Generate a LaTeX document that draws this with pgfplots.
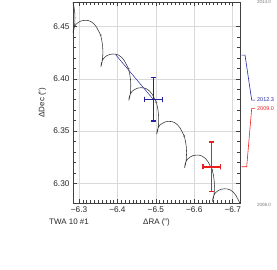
\documentclass[border=0pt]{standalone}
\usepackage{pgfplots}
\pgfplotsset{compat=1.18}
\usepackage{fontspec}
\setmainfont{Liberation Sans}
\definecolor{myblue}{RGB}{35,35,160}
\definecolor{myred}{RGB}{235,30,30}
\begin{document}
\begin{tikzpicture}
\begin{axis}[
 at={(0,0)}, anchor=south west,
 scale only axis, width=167bp, height=201bp,
 x dir=reverse,
 xmin=-6.719, xmax=-6.2844,
 ymin=6.2812, ymax=6.4733,
 xtick={-6.3,-6.4,-6.5,-6.6,-6.7},
 xticklabels={−6.3,−6.4,−6.5,−6.6,−6.7},
 ytick={6.30,6.35,6.40,6.45},
 yticklabels={6.30,6.35,6.40,6.45},
 minor x tick num=9, minor y tick num=4,
 grid=major, major grid style={black!15, line width=0.5pt},
 axis line style={black!75, line width=0.5pt},
 tick style={black!75, line width=0.45pt},
 ticklabel style={font=\fontsize{8.3}{10}\selectfont, text=black!85},
 xlabel={ΔRA (")}, ylabel={ΔDec (")},
 label style={font=\fontsize{8}{10}\selectfont, text=black!85},
 xlabel style={at={(axis description cs:0.5,-0.0945)},anchor=center},
 ylabel style={at={(axis description cs:-0.183,0.5)},anchor=center},
]
\addplot[black!80, line width=0.55pt] coordinates {
(-6.27294,6.48165) (-6.27814,6.47801) (-6.28361,6.47400) (-6.28673,6.46922) (-6.28881,6.46396) (-6.28959,6.45870) (-6.28907,6.45297) (-6.28725,6.44771)
(-6.2844,6.4437) (-6.2854,6.4466) (-6.2878,6.4494) (-6.2922,6.4521) (-6.2987,6.4540) (-6.3065,6.4554) (-6.3156,6.4559) (-6.3234,6.4557) (-6.3312,6.4547) (-6.3390,6.4525) (-6.3456,6.4494) (-6.3508,6.4458) (-6.3562,6.4418) (-6.3593,6.4370) (-6.3614,6.4317) (-6.3622,6.4265) (-6.3617,6.4208) (-6.3599,6.4155)
(-6.3570,6.4115) (-6.3580,6.4144) (-6.3604,6.4172) (-6.3648,6.4199) (-6.3713,6.4218) (-6.3791,6.4232) (-6.3882,6.4237) (-6.3960,6.4235) (-6.4038,6.4225) (-6.4116,6.4203) (-6.4182,6.4172) (-6.4234,6.4136) (-6.4288,6.4096) (-6.4319,6.4048) (-6.4340,6.3995) (-6.4348,6.3943) (-6.4343,6.3886) (-6.4325,6.3833)
(-6.4296,6.3793) (-6.4306,6.3822) (-6.4330,6.3850) (-6.4374,6.3877) (-6.4439,6.3896) (-6.4517,6.3910) (-6.4608,6.3915) (-6.4686,6.3913) (-6.4764,6.3903) (-6.4842,6.3881) (-6.4908,6.3850) (-6.4960,6.3814) (-6.5014,6.3774) (-6.5045,6.3726) (-6.5066,6.3673) (-6.5074,6.3621) (-6.5069,6.3564) (-6.5051,6.3511)
(-6.5022,6.3471) (-6.5032,6.3500) (-6.5056,6.3528) (-6.5100,6.3555) (-6.5165,6.3574) (-6.5243,6.3588) (-6.5334,6.3593) (-6.5412,6.3591) (-6.5490,6.3581) (-6.5568,6.3559) (-6.5634,6.3528) (-6.5686,6.3492) (-6.5740,6.3452) (-6.5771,6.3404) (-6.5792,6.3351) (-6.5800,6.3299) (-6.5795,6.3242) (-6.5777,6.3189)
(-6.5748,6.3149) (-6.5758,6.3178) (-6.5782,6.3206) (-6.5826,6.3233) (-6.5891,6.3252) (-6.5969,6.3266) (-6.6060,6.3271) (-6.6138,6.3269) (-6.6216,6.3259) (-6.6294,6.3237) (-6.6360,6.3206) (-6.6412,6.3170) (-6.6466,6.3130) (-6.6497,6.3082) (-6.6518,6.3029) (-6.6526,6.2977) (-6.6521,6.2920) (-6.6503,6.2867)
(-6.6474,6.2827) (-6.6484,6.2856) (-6.6508,6.2884) (-6.6552,6.2911) (-6.6617,6.2930) (-6.6695,6.2944) (-6.6786,6.2949) (-6.6864,6.2947) (-6.6942,6.2937) (-6.7020,6.2915) (-6.7086,6.2884) (-6.7138,6.2848) (-6.7192,6.2808) (-6.7223,6.2760)
};
\addplot[only marks, mark=*, mark size=0.75pt, black!60] coordinates {
(-6.3562,6.4418) (-6.4288,6.4096) (-6.5014,6.3774) (-6.5740,6.3452) (-6.6466,6.3130)
};
\addplot[color=myblue, line width=0.5pt] coordinates {(-6.3950,6.4232) (-6.4934,6.3803)};
% blue measurement (2012.3)
\addplot[color=myblue, line width=1.5pt, mark=none] coordinates {
(-6.4869,6.3595) (-6.4999,6.3595) (-6.4934,6.3595) (-6.4934,6.4011) (-6.4869,6.4011) (-6.4999,6.4011)
};
\addplot[color=myblue, line width=1.5pt, mark=none] coordinates {
(-6.4699,6.3778) (-6.4699,6.3828) (-6.4699,6.3803) (-6.5169,6.3803) (-6.5169,6.3778) (-6.5169,6.3828)
};
% red measurement (2009.0)
\addplot[color=myred, line width=1.5pt, mark=none] coordinates {
(-6.6389,6.2924) (-6.6519,6.2924) (-6.6454,6.2924) (-6.6454,6.3394) (-6.6389,6.3394) (-6.6519,6.3394)
};
\addplot[color=myred, line width=1.5pt, mark=none] coordinates {
(-6.6227,6.3134) (-6.6227,6.3184) (-6.6227,6.3159) (-6.6681,6.3159) (-6.6681,6.3134) (-6.6681,6.3184)
};
\end{axis}
\draw[myblue, line width=0.6pt] (168.7bp,148bp) -- (172bp,148bp) -- (178.7bp,103bp) -- (182bp,103bp);
\node[anchor=west, text=myblue, font=\fontsize{5.5}{6}\selectfont, inner sep=0pt] at (184bp,103bp) {2012.3};
\draw[myred, line width=0.6pt] (168.7bp,36.3bp) -- (173.7bp,36.3bp) -- (178.7bp,94.7bp) -- (182bp,94.7bp);
\node[anchor=west, text=myred, font=\fontsize{5.5}{6}\selectfont, inner sep=0pt] at (184bp,94.7bp) {2009.0};
\node[anchor=west, text=black!55, font=\fontsize{4.5}{5}\selectfont, inner sep=0pt] at (184bp,201.5bp) {2014.0};
\node[anchor=west, text=black!55, font=\fontsize{4.5}{5}\selectfont, inner sep=0pt] at (184bp,-1.5bp) {2008.0};
\node[anchor=west, text=black!85, font=\fontsize{8}{10}\selectfont, inner sep=0pt] at (-24bp,-19bp) {TWA 10 \#1};
\path[use as bounding box] (-73bp,-66bp) rectangle (204bp,203bp);
\end{tikzpicture}
\end{document}
